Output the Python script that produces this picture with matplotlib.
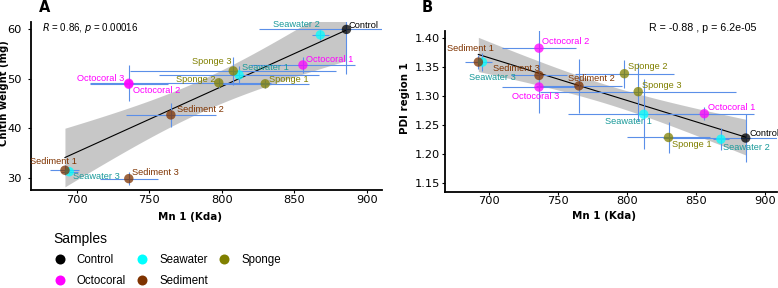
import numpy as np
import matplotlib
matplotlib.use("Agg")
import matplotlib.pyplot as plt
from matplotlib.lines import Line2D

# ---- data ----
samples = ["Control", "Seawater 1", "Seawater 2", "Seawater 3",
           "Octocoral 1", "Octocoral 2", "Octocoral 3",
           "Sediment 1", "Sediment 2", "Sediment 3",
           "Sponge 1", "Sponge 2", "Sponge 3"]
groups = ["Control", "Seawater", "Seawater", "Seawater",
          "Octocoral", "Octocoral", "Octocoral",
          "Sediment", "Sediment", "Sediment",
          "Sponge", "Sponge", "Sponge"]
mn = [886, 812, 868, 695, 856, 736, 736, 692, 765, 736, 830, 798, 808]
mn_sd = [60, 55, 6, 6, 36, 27, 27, 10, 31, 20, 30, 36, 71]
chitin = [60.0, 50.8, 58.9, 31.2, 52.8, 49.1, 48.9, 31.5, 42.7, 29.8, 49.0, 49.2, 51.6]
chitin_sd = [9.1, 1.7, 1.0, 0.5, 1.6, 3.6, 1.0, 1.0, 2.4, 1.3, 0.8, 1.0, 2.9]
pdi = [1.228, 1.269, 1.226, 1.359, 1.270, 1.383, 1.316, 1.359, 1.318, 1.336, 1.229, 1.339, 1.308]
pdi_sd = [0.042, 0.06, 0.019, 0.016, 0.011, 0.035, 0.045, 0.012, 0.047, 0.02, 0.027, 0.024, 0.05]

legend_groups = ["Control", "Octocoral", "Seawater", "Sediment", "Sponge"]
stats_a = "$R$ = 0.86, $p$ = 0.00016"
stats_b = "R = -0.88 , p = 6.2e-05"

# ---- styling ----
point_col = {"Control": "#000000", "Seawater": "#00FFFF", "Octocoral": "#FF00FF",
             "Sediment": "#7F3300", "Sponge": "#808000"}
label_col = {"Control": "#000000", "Seawater": "#1A9A9A", "Octocoral": "#FF00FF",
             "Sediment": "#7F3300", "Sponge": "#808000"}
err_col = "#5B8FE8"
TXT = "Liberation Sans"
T_975_DF11 = 2.201

# label offsets in pixels (dx, dy-down, ha)
offs_a = [(2, -4.3, "left"), (3, -7.3, "left"), (-1, -10, "right"), (3.3, 5, "left"),
          (3.3, -5, "left"), (4.6, 7.7, "left"), (-4.7, -5.7, "right"),
          (-12, -8.3, "center"), (5.7, -5.7, "left"), (3, -6.4, "left"),
          (4.3, -4.4, "left"), (-3.7, -3.7, "right"), (-1.6, -9, "right")]
offs_b = [(3.4, -5, "left"), (7.7, 7.4, "right"), (2.4, 8, "left"), (9.5, 15, "center"),
          (3.3, -5.7, "left"), (3, -6.3, "left"), (-3.2, 9.4, "center"),
          (-8, -13.3, "center"), (-11, -7.7, "left"), (0.6, -7, "right"),
          (3.3, 6.6, "left"), (3.7, -7.3, "left"), (3.3, -5.7, "left")]


def fit_band(x, y):
    x = np.asarray(x, float)
    y = np.asarray(y, float)
    n = len(x)
    b, a = np.polyfit(x, y, 1)
    resid = y - (a + b * x)
    s = np.sqrt(np.sum(resid ** 2) / (n - 2))
    xs = np.linspace(x.min(), x.max(), 80)
    se = s * np.sqrt(1 / n + (xs - x.mean()) ** 2 / np.sum((x - x.mean()) ** 2))
    yh = a + b * xs
    return xs, yh, yh - T_975_DF11 * se, yh + T_975_DF11 * se


def panel(ax, yvals, ysd, offs, ypad):
    xs, yh, lo, hi = fit_band(mn, yvals)
    ax.fill_between(xs, lo, hi, color="#BEBEBE", alpha=0.85, lw=0, zorder=1)
    ax.plot(xs, yh, color="black", lw=0.8, zorder=2)
    ax.errorbar(mn, yvals, xerr=mn_sd, yerr=ysd, fmt="none", ecolor=err_col,
                elinewidth=0.8, capsize=0, zorder=3)
    cols = [point_col[g] for g in groups]
    ax.scatter(mn, yvals, s=46, c=cols, alpha=0.75, lw=0, zorder=4)
    for i, name in enumerate(samples):
        dx, dy, ha = offs[i]
        ax.annotate(name, (mn[i], yvals[i]), xytext=(dx * 0.72, -dy * 0.72),
                    textcoords="offset points", ha=ha, va="center",
                    fontsize=6.7, family=TXT, color=label_col[groups[i]], zorder=5)
    for side in ("top", "right"):
        ax.spines[side].set_visible(False)
    for side in ("left", "bottom"):
        ax.spines[side].set_linewidth(1.3)
    ax.tick_params(length=2.2, width=0.8, labelsize=8.2)
    ax.tick_params(axis="x", pad=1.2)
    ax.tick_params(axis="y", pad=ypad)
    ax.set_xticks([700, 750, 800, 850, 900])


fig = plt.figure(figsize=(7.78, 2.88), dpi=100)
axA = fig.add_axes([31 / 778, 1 - 190 / 288, 351 / 778, 168 / 288])
axB = fig.add_axes([445 / 778, 1 - 191.7 / 288, 331.7 / 778, 160.7 / 288])

panel(axA, chitin, chitin_sd, offs_a, 4.5)
axA.set_xlim(668.6, 910.5)
axA.set_ylim(27.5, 61.5)
axA.set_yticks([30, 40, 50, 60])
axA.set_xlabel("Mn 1 (Kda)", fontsize=7.4, fontweight="bold")
axA.set_ylabel("Chitin weight (mg)", fontsize=7.2, fontweight="bold")
axA.xaxis.set_label_coords(0.453, -0.13)
axA.yaxis.set_label_coords(-0.064, 0.574)
axA.text(0.0305, 0.9625, stats_a, transform=axA.transAxes, ha="left", va="center",
         fontsize=7, family=TXT)

panel(axB, pdi, pdi_sd, offs_b, 1.5)
axB.set_xlim(667.8, 908.5)
axB.set_ylim(1.1355, 1.4126)
axB.set_yticks([1.15, 1.20, 1.25, 1.30, 1.35, 1.40])
axB.set_yticklabels([f"{v:.2f}" for v in [1.15, 1.20, 1.25, 1.30, 1.35, 1.40]])
axB.set_xlabel("Mn 1 (Kda)", fontsize=7.4, fontweight="bold")
axB.set_ylabel("PDI region 1", fontsize=7.4, fontweight="bold")
axB.xaxis.set_label_coords(0.48, -0.12)
axB.yaxis.set_label_coords(-0.105, 0.581)
axB.text(0.9376, 1.017, stats_b, transform=axB.transAxes, ha="right", va="center",
         fontsize=7.7, family=TXT, clip_on=False)

fig.text(45 / 778, 1 - 8 / 288, "A", fontsize=10.5, fontweight="bold", va="center", ha="center")
fig.text(427 / 778, 1 - 8 / 288, "B", fontsize=10.5, fontweight="bold", va="center", ha="center")

handles = [Line2D([], [], ls="none", marker="o", markersize=7.2,
                  markerfacecolor=point_col[g], markeredgewidth=0) for g in legend_groups]
leg = fig.legend(handles, legend_groups, ncol=3, loc="upper left",
                 bbox_to_anchor=(48 / 778, 1 - 226 / 288), frameon=False,
                 title="Samples", alignment="left", borderpad=0,
                 handlelength=1.0, handletextpad=1.0, columnspacing=0.9,
                 labelspacing=0.73, prop={"family": TXT, "size": 8.3},
                 title_fontproperties={"family": TXT, "size": 10})

fig.savefig("out.png", dpi=100)
